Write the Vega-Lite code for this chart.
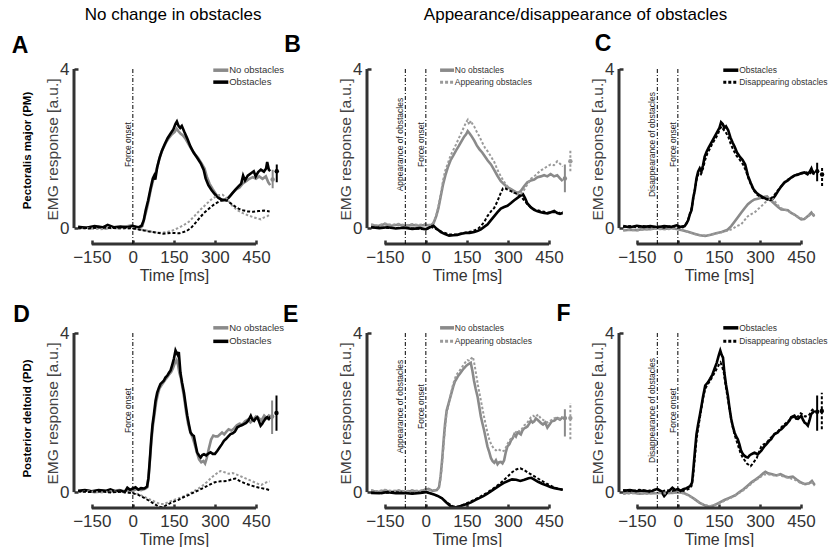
{
"$schema": "https://vega.github.io/schema/vega-lite/v6.json",
"padding": {"left": 11, "top": 6, "right": 0, "bottom": 0},
"columns": 3,
"spacing": {"row": 89, "column": 47},
"bounds": "flush",
"align": "each",
"config": {
 "font": "Liberation Sans",
 "view": {"stroke": null},
 "axisX": {"domain": false, "grid": false, "ticks": true, "tickSize": -4, "tickWidth": 2.5, "tickColor": "#333333", "labelFontSize": 17, "labelColor": "#333333", "labelPadding": 9, "labelFlush": false, "labelOverlap": false, "titleFontSize": 16, "titleFontWeight": "normal", "titleColor": "#333333", "titleX": 100, "titleY": 31, "titleBaseline": "middle", "titleAlign": "center"},
 "axisY": {"domain": false, "grid": false, "ticks": true, "tickSize": -4, "tickWidth": 2.5, "tickColor": "#333333", "labelFontSize": 17, "labelColor": "#333333", "labelPadding": 9, "labelFlush": false, "labelOverlap": false, "titleFontSize": 15.5, "titleFontWeight": "normal", "titleColor": "#444444", "titleX": -22, "titleY": 80, "titleAngle": -90, "titleAlign": "center", "titleBaseline": "middle"}
},
"datasets": {
 "evA": [{"ev": 0, "lab": "Force onset"}],
 "evB": [{"ev": -75, "lab": "Appearance of obstacles"}, {"ev": 0, "lab": "Force onset"}],
 "evC": [{"ev": -75, "lab": "Disappearance of obstacles"}, {"ev": 0, "lab": "Force onset"}],
 "A": [
{"s":"gs","t":-200,"v":-0.01},{"s":"gs","t":-175,"v":0.02},{"s":"gs","t":-150,"v":0},{"s":"gs","t":-125,"v":0.03},{"s":"gs","t":-100,"v":-0.01},{"s":"gs","t":-75,"v":0.02},{"s":"gs","t":-50,"v":0},{"s":"gs","t":-25,"v":0.04},{"s":"gs","t":-5,"v":0.07},{"s":"gs","t":10,"v":0.03},{"s":"gs","t":25,"v":0},{"s":"gs","t":35,"v":0.05},{"s":"gs","t":42,"v":0.25},{"s":"gs","t":50,"v":0.45},{"s":"gs","t":58,"v":0.7},{"s":"gs","t":66,"v":0.98},{"s":"gs","t":74,"v":1.2},{"s":"gs","t":82,"v":1.35},{"s":"gs","t":90,"v":1.55},{"s":"gs","t":100,"v":1.82},{"s":"gs","t":110,"v":2.0},{"s":"gs","t":121,"v":2.15},{"s":"gs","t":132,"v":2.27},{"s":"gs","t":143,"v":2.36},{"s":"gs","t":153,"v":2.42},{"s":"gs","t":160,"v":2.5},{"s":"gs","t":166,"v":2.44},{"s":"gs","t":174,"v":2.38},{"s":"gs","t":183,"v":2.33},{"s":"gs","t":193,"v":2.24},{"s":"gs","t":203,"v":2.12},{"s":"gs","t":214,"v":1.99},{"s":"gs","t":226,"v":1.87},{"s":"gs","t":238,"v":1.77},{"s":"gs","t":250,"v":1.64},{"s":"gs","t":262,"v":1.5},{"s":"gs","t":270,"v":1.3},{"s":"gs","t":280,"v":1.12},{"s":"gs","t":292,"v":0.98},{"s":"gs","t":305,"v":0.84},{"s":"gs","t":318,"v":0.75},{"s":"gs","t":330,"v":0.69},{"s":"gs","t":342,"v":0.72},{"s":"gs","t":354,"v":0.8},{"s":"gs","t":366,"v":0.9},{"s":"gs","t":378,"v":0.97},{"s":"gs","t":390,"v":1.02},{"s":"gs","t":402,"v":1.12},{"s":"gs","t":414,"v":1.18},{"s":"gs","t":426,"v":1.24},{"s":"gs","t":438,"v":1.28},{"s":"gs","t":450,"v":1.24},{"s":"gs","t":462,"v":1.3},{"s":"gs","t":474,"v":1.24},{"s":"gs","t":486,"v":1.3},{"s":"gs","t":495,"v":1.15},{"s":"gs","t":502,"v":1.08},
{"s":"ks","t":-200,"v":0.03},{"s":"ks","t":-170,"v":0.01},{"s":"ks","t":-140,"v":0.05},{"s":"ks","t":-110,"v":0.02},{"s":"ks","t":-92,"v":0.08},{"s":"ks","t":-70,"v":0.02},{"s":"ks","t":-45,"v":0.04},{"s":"ks","t":-20,"v":0.02},{"s":"ks","t":0,"v":0.05},{"s":"ks","t":20,"v":0.02},{"s":"ks","t":32,"v":0.06},{"s":"ks","t":40,"v":0.2},{"s":"ks","t":47,"v":0.45},{"s":"ks","t":56,"v":0.7},{"s":"ks","t":65,"v":1.0},{"s":"ks","t":73,"v":1.25},{"s":"ks","t":78,"v":1.32},{"s":"ks","t":82,"v":1.22},{"s":"ks","t":89,"v":1.53},{"s":"ks","t":97,"v":1.75},{"s":"ks","t":106,"v":1.94},{"s":"ks","t":116,"v":2.1},{"s":"ks","t":127,"v":2.26},{"s":"ks","t":138,"v":2.38},{"s":"ks","t":148,"v":2.48},{"s":"ks","t":156,"v":2.62},{"s":"ks","t":161,"v":2.68},{"s":"ks","t":167,"v":2.57},{"s":"ks","t":173,"v":2.52},{"s":"ks","t":179,"v":2.57},{"s":"ks","t":188,"v":2.42},{"s":"ks","t":199,"v":2.25},{"s":"ks","t":210,"v":2.06},{"s":"ks","t":222,"v":1.9},{"s":"ks","t":235,"v":1.77},{"s":"ks","t":248,"v":1.63},{"s":"ks","t":259,"v":1.46},{"s":"ks","t":266,"v":1.25},{"s":"ks","t":276,"v":1.08},{"s":"ks","t":288,"v":0.95},{"s":"ks","t":300,"v":0.85},{"s":"ks","t":313,"v":0.76},{"s":"ks","t":326,"v":0.71},{"s":"ks","t":338,"v":0.71},{"s":"ks","t":350,"v":0.76},{"s":"ks","t":362,"v":0.86},{"s":"ks","t":374,"v":0.96},{"s":"ks","t":386,"v":1.05},{"s":"ks","t":396,"v":1.12},{"s":"ks","t":403,"v":1.32},{"s":"ks","t":410,"v":1.2},{"s":"ks","t":420,"v":1.32},{"s":"ks","t":432,"v":1.38},{"s":"ks","t":442,"v":1.43},{"s":"ks","t":449,"v":1.3},{"s":"ks","t":458,"v":1.41},{"s":"ks","t":468,"v":1.47},{"s":"ks","t":479,"v":1.42},{"s":"ks","t":487,"v":1.5},{"s":"ks","t":491,"v":1.66},{"s":"ks","t":497,"v":1.47},{"s":"ks","t":502,"v":1.43},
{"s":"gd","t":-200,"v":-0.02},{"s":"gd","t":-160,"v":0},{"s":"gd","t":-120,"v":-0.03},{"s":"gd","t":-80,"v":0},{"s":"gd","t":-40,"v":-0.02},{"s":"gd","t":0,"v":0},{"s":"gd","t":25,"v":-0.03},{"s":"gd","t":50,"v":-0.06},{"s":"gd","t":75,"v":-0.1},{"s":"gd","t":100,"v":-0.12},{"s":"gd","t":125,"v":-0.1},{"s":"gd","t":145,"v":-0.06},{"s":"gd","t":165,"v":0},{"s":"gd","t":185,"v":0.07},{"s":"gd","t":205,"v":0.16},{"s":"gd","t":225,"v":0.3},{"s":"gd","t":245,"v":0.45},{"s":"gd","t":265,"v":0.58},{"s":"gd","t":285,"v":0.71},{"s":"gd","t":300,"v":0.78},{"s":"gd","t":315,"v":0.83},{"s":"gd","t":328,"v":0.84},{"s":"gd","t":340,"v":0.77},{"s":"gd","t":352,"v":0.66},{"s":"gd","t":365,"v":0.55},{"s":"gd","t":380,"v":0.46},{"s":"gd","t":398,"v":0.39},{"s":"gd","t":418,"v":0.33},{"s":"gd","t":438,"v":0.28},{"s":"gd","t":455,"v":0.24},{"s":"gd","t":468,"v":0.22},{"s":"gd","t":480,"v":0.27},{"s":"gd","t":492,"v":0.3},{"s":"gd","t":500,"v":0.34},
{"s":"kd","t":-200,"v":0.01},{"s":"kd","t":-160,"v":-0.01},{"s":"kd","t":-120,"v":0.02},{"s":"kd","t":-80,"v":0},{"s":"kd","t":-40,"v":0.01},{"s":"kd","t":0,"v":-0.01},{"s":"kd","t":25,"v":-0.04},{"s":"kd","t":55,"v":-0.08},{"s":"kd","t":85,"v":-0.11},{"s":"kd","t":110,"v":-0.14},{"s":"kd","t":140,"v":-0.12},{"s":"kd","t":170,"v":-0.13},{"s":"kd","t":195,"v":-0.08},{"s":"kd","t":212,"v":0},{"s":"kd","t":225,"v":0.1},{"s":"kd","t":242,"v":0.24},{"s":"kd","t":260,"v":0.38},{"s":"kd","t":280,"v":0.5},{"s":"kd","t":298,"v":0.6},{"s":"kd","t":316,"v":0.67},{"s":"kd","t":333,"v":0.71},{"s":"kd","t":346,"v":0.68},{"s":"kd","t":358,"v":0.62},{"s":"kd","t":372,"v":0.55},{"s":"kd","t":386,"v":0.49},{"s":"kd","t":402,"v":0.45},{"s":"kd","t":420,"v":0.42},{"s":"kd","t":440,"v":0.41},{"s":"kd","t":460,"v":0.43},{"s":"kd","t":480,"v":0.44},{"s":"kd","t":500,"v":0.42},
{"s":"gs","t":511,"v":1.22,"lo":1.0,"hi":1.47},{"s":"ks","t":526,"v":1.43,"lo":1.15,"hi":1.6}
 ],
 "B": [
{"s":"gs","t":-200,"v":0.08},{"s":"gs","t":-175,"v":0.05},{"s":"gs","t":-150,"v":0.1},{"s":"gs","t":-125,"v":0.06},{"s":"gs","t":-100,"v":0.09},{"s":"gs","t":-75,"v":0.05},{"s":"gs","t":-50,"v":0.08},{"s":"gs","t":-25,"v":0.06},{"s":"gs","t":0,"v":0.08},{"s":"gs","t":15,"v":0.06},{"s":"gs","t":28,"v":0.12},{"s":"gs","t":38,"v":0.3},{"s":"gs","t":46,"v":0.5},{"s":"gs","t":55,"v":0.82},{"s":"gs","t":63,"v":1.1},{"s":"gs","t":71,"v":1.32},{"s":"gs","t":80,"v":1.52},{"s":"gs","t":90,"v":1.7},{"s":"gs","t":100,"v":1.82},{"s":"gs","t":110,"v":1.95},{"s":"gs","t":120,"v":2.06},{"s":"gs","t":130,"v":2.18},{"s":"gs","t":140,"v":2.3},{"s":"gs","t":147,"v":2.36},{"s":"gs","t":153,"v":2.44},{"s":"gs","t":160,"v":2.38},{"s":"gs","t":168,"v":2.3},{"s":"gs","t":177,"v":2.2},{"s":"gs","t":186,"v":2.08},{"s":"gs","t":196,"v":1.98},{"s":"gs","t":206,"v":1.9},{"s":"gs","t":216,"v":1.8},{"s":"gs","t":226,"v":1.7},{"s":"gs","t":238,"v":1.6},{"s":"gs","t":250,"v":1.46},{"s":"gs","t":262,"v":1.31},{"s":"gs","t":274,"v":1.18},{"s":"gs","t":286,"v":1.1},{"s":"gs","t":298,"v":1.03},{"s":"gs","t":311,"v":0.98},{"s":"gs","t":323,"v":0.93},{"s":"gs","t":335,"v":0.88},{"s":"gs","t":347,"v":0.93},{"s":"gs","t":359,"v":1.05},{"s":"gs","t":371,"v":1.15},{"s":"gs","t":384,"v":1.2},{"s":"gs","t":396,"v":1.22},{"s":"gs","t":408,"v":1.28},{"s":"gs","t":420,"v":1.3},{"s":"gs","t":432,"v":1.33},{"s":"gs","t":444,"v":1.3},{"s":"gs","t":456,"v":1.36},{"s":"gs","t":468,"v":1.3},{"s":"gs","t":480,"v":1.33},{"s":"gs","t":490,"v":1.25},{"s":"gs","t":500,"v":1.18},
{"s":"ks","t":-200,"v":0.02},{"s":"ks","t":-170,"v":0},{"s":"ks","t":-140,"v":0.02},{"s":"ks","t":-110,"v":-0.01},{"s":"ks","t":-80,"v":0.01},{"s":"ks","t":-50,"v":-0.02},{"s":"ks","t":-20,"v":0},{"s":"ks","t":0,"v":-0.03},{"s":"ks","t":15,"v":0.02},{"s":"ks","t":28,"v":0.06},{"s":"ks","t":40,"v":-0.02},{"s":"ks","t":55,"v":-0.1},{"s":"ks","t":70,"v":-0.15},{"s":"ks","t":85,"v":-0.19},{"s":"ks","t":100,"v":-0.18},{"s":"ks","t":115,"v":-0.17},{"s":"ks","t":130,"v":-0.14},{"s":"ks","t":145,"v":-0.12},{"s":"ks","t":160,"v":-0.12},{"s":"ks","t":177,"v":-0.1},{"s":"ks","t":190,"v":-0.07},{"s":"ks","t":201,"v":-0.03},{"s":"ks","t":213,"v":0.03},{"s":"ks","t":225,"v":0.09},{"s":"ks","t":238,"v":0.2},{"s":"ks","t":250,"v":0.3},{"s":"ks","t":262,"v":0.4},{"s":"ks","t":274,"v":0.49},{"s":"ks","t":286,"v":0.53},{"s":"ks","t":298,"v":0.56},{"s":"ks","t":311,"v":0.63},{"s":"ks","t":323,"v":0.7},{"s":"ks","t":335,"v":0.76},{"s":"ks","t":347,"v":0.82},{"s":"ks","t":355,"v":0.85},{"s":"ks","t":362,"v":0.76},{"s":"ks","t":371,"v":0.62},{"s":"ks","t":384,"v":0.52},{"s":"ks","t":396,"v":0.46},{"s":"ks","t":408,"v":0.42},{"s":"ks","t":420,"v":0.4},{"s":"ks","t":432,"v":0.38},{"s":"ks","t":445,"v":0.37},{"s":"ks","t":457,"v":0.4},{"s":"ks","t":469,"v":0.43},{"s":"ks","t":480,"v":0.38},{"s":"ks","t":490,"v":0.36},{"s":"ks","t":500,"v":0.38},
{"s":"gd","t":-200,"v":0.1},{"s":"gd","t":-175,"v":0.06},{"s":"gd","t":-150,"v":0.12},{"s":"gd","t":-125,"v":0.08},{"s":"gd","t":-100,"v":0.11},{"s":"gd","t":-75,"v":0.07},{"s":"gd","t":-50,"v":0.1},{"s":"gd","t":-25,"v":0.08},{"s":"gd","t":0,"v":0.1},{"s":"gd","t":15,"v":0.08},{"s":"gd","t":28,"v":0.14},{"s":"gd","t":38,"v":0.32},{"s":"gd","t":46,"v":0.55},{"s":"gd","t":55,"v":0.88},{"s":"gd","t":63,"v":1.2},{"s":"gd","t":71,"v":1.45},{"s":"gd","t":80,"v":1.62},{"s":"gd","t":90,"v":1.82},{"s":"gd","t":100,"v":1.96},{"s":"gd","t":110,"v":2.1},{"s":"gd","t":120,"v":2.25},{"s":"gd","t":130,"v":2.4},{"s":"gd","t":140,"v":2.55},{"s":"gd","t":147,"v":2.66},{"s":"gd","t":153,"v":2.72},{"s":"gd","t":158,"v":2.6},{"s":"gd","t":164,"v":2.7},{"s":"gd","t":170,"v":2.62},{"s":"gd","t":177,"v":2.55},{"s":"gd","t":186,"v":2.42},{"s":"gd","t":196,"v":2.3},{"s":"gd","t":206,"v":2.15},{"s":"gd","t":216,"v":2.02},{"s":"gd","t":226,"v":1.93},{"s":"gd","t":238,"v":1.8},{"s":"gd","t":250,"v":1.66},{"s":"gd","t":262,"v":1.46},{"s":"gd","t":274,"v":1.3},{"s":"gd","t":286,"v":1.16},{"s":"gd","t":298,"v":1.05},{"s":"gd","t":311,"v":0.96},{"s":"gd","t":323,"v":0.88},{"s":"gd","t":335,"v":0.84},{"s":"gd","t":347,"v":0.86},{"s":"gd","t":359,"v":0.96},{"s":"gd","t":371,"v":1.1},{"s":"gd","t":384,"v":1.24},{"s":"gd","t":396,"v":1.3},{"s":"gd","t":408,"v":1.38},{"s":"gd","t":420,"v":1.45},{"s":"gd","t":432,"v":1.5},{"s":"gd","t":444,"v":1.55},{"s":"gd","t":456,"v":1.6},{"s":"gd","t":468,"v":1.58},{"s":"gd","t":480,"v":1.68},{"s":"gd","t":490,"v":1.62},{"s":"gd","t":500,"v":1.55},
{"s":"kd","t":-200,"v":0.02},{"s":"kd","t":-160,"v":0.01},{"s":"kd","t":-120,"v":0},{"s":"kd","t":-80,"v":0.01},{"s":"kd","t":-40,"v":-0.01},{"s":"kd","t":0,"v":-0.03},{"s":"kd","t":20,"v":0.03},{"s":"kd","t":40,"v":-0.03},{"s":"kd","t":60,"v":-0.1},{"s":"kd","t":85,"v":-0.16},{"s":"kd","t":110,"v":-0.16},{"s":"kd","t":140,"v":-0.12},{"s":"kd","t":170,"v":-0.08},{"s":"kd","t":190,"v":-0.02},{"s":"kd","t":201,"v":0.05},{"s":"kd","t":213,"v":0.15},{"s":"kd","t":225,"v":0.3},{"s":"kd","t":238,"v":0.42},{"s":"kd","t":250,"v":0.51},{"s":"kd","t":262,"v":0.68},{"s":"kd","t":274,"v":0.89},{"s":"kd","t":282,"v":1.0},{"s":"kd","t":290,"v":1.0},{"s":"kd","t":298,"v":0.97},{"s":"kd","t":311,"v":0.93},{"s":"kd","t":323,"v":0.89},{"s":"kd","t":335,"v":0.85},{"s":"kd","t":347,"v":0.8},{"s":"kd","t":359,"v":0.7},{"s":"kd","t":371,"v":0.6},{"s":"kd","t":384,"v":0.52},{"s":"kd","t":396,"v":0.47},{"s":"kd","t":420,"v":0.43},{"s":"kd","t":445,"v":0.39},{"s":"kd","t":469,"v":0.4},{"s":"kd","t":485,"v":0.38},{"s":"kd","t":500,"v":0.4},
{"s":"gs","t":508,"v":1.25,"lo":0.9,"hi":1.6},{"s":"gd","t":528,"v":1.68,"lo":1.43,"hi":1.99}
 ],
 "C": [
{"s":"gs","t":-200,"v":-0.06},{"s":"gs","t":-175,"v":-0.04},{"s":"gs","t":-150,"v":-0.05},{"s":"gs","t":-125,"v":-0.02},{"s":"gs","t":-100,"v":-0.03},{"s":"gs","t":-75,"v":0},{"s":"gs","t":-50,"v":-0.02},{"s":"gs","t":-25,"v":0},{"s":"gs","t":0,"v":-0.03},{"s":"gs","t":20,"v":-0.06},{"s":"gs","t":40,"v":-0.1},{"s":"gs","t":60,"v":-0.14},{"s":"gs","t":80,"v":-0.18},{"s":"gs","t":100,"v":-0.2},{"s":"gs","t":120,"v":-0.17},{"s":"gs","t":140,"v":-0.13},{"s":"gs","t":160,"v":-0.1},{"s":"gs","t":180,"v":-0.05},{"s":"gs","t":195,"v":0.05},{"s":"gs","t":207,"v":0.16},{"s":"gs","t":220,"v":0.28},{"s":"gs","t":232,"v":0.39},{"s":"gs","t":244,"v":0.5},{"s":"gs","t":256,"v":0.6},{"s":"gs","t":268,"v":0.67},{"s":"gs","t":280,"v":0.72},{"s":"gs","t":292,"v":0.74},{"s":"gs","t":305,"v":0.76},{"s":"gs","t":317,"v":0.79},{"s":"gs","t":326,"v":0.8},{"s":"gs","t":335,"v":0.73},{"s":"gs","t":345,"v":0.66},{"s":"gs","t":355,"v":0.6},{"s":"gs","t":366,"v":0.53},{"s":"gs","t":378,"v":0.47},{"s":"gs","t":390,"v":0.46},{"s":"gs","t":402,"v":0.45},{"s":"gs","t":414,"v":0.38},{"s":"gs","t":426,"v":0.34},{"s":"gs","t":438,"v":0.28},{"s":"gs","t":451,"v":0.22},{"s":"gs","t":462,"v":0.23},{"s":"gs","t":470,"v":0.27},{"s":"gs","t":480,"v":0.33},{"s":"gs","t":488,"v":0.39},{"s":"gs","t":495,"v":0.32},{"s":"gs","t":500,"v":0.3},
{"s":"ks","t":-200,"v":0.05},{"s":"ks","t":-175,"v":0.02},{"s":"ks","t":-150,"v":0.06},{"s":"ks","t":-125,"v":0.03},{"s":"ks","t":-100,"v":0.05},{"s":"ks","t":-75,"v":0.02},{"s":"ks","t":-50,"v":0.05},{"s":"ks","t":-25,"v":0.03},{"s":"ks","t":-5,"v":0.07},{"s":"ks","t":10,"v":0.03},{"s":"ks","t":25,"v":0.05},{"s":"ks","t":32,"v":0.12},{"s":"ks","t":38,"v":0.2},{"s":"ks","t":44,"v":0.35},{"s":"ks","t":50,"v":0.45},{"s":"ks","t":56,"v":0.75},{"s":"ks","t":62,"v":0.95},{"s":"ks","t":68,"v":1.25},{"s":"ks","t":74,"v":1.42},{"s":"ks","t":80,"v":1.5},{"s":"ks","t":86,"v":1.42},{"s":"ks","t":92,"v":1.58},{"s":"ks","t":98,"v":1.8},{"s":"ks","t":105,"v":1.92},{"s":"ks","t":112,"v":2.02},{"s":"ks","t":120,"v":2.12},{"s":"ks","t":128,"v":2.22},{"s":"ks","t":136,"v":2.32},{"s":"ks","t":144,"v":2.42},{"s":"ks","t":152,"v":2.52},{"s":"ks","t":158,"v":2.66},{"s":"ks","t":164,"v":2.62},{"s":"ks","t":170,"v":2.52},{"s":"ks","t":176,"v":2.56},{"s":"ks","t":184,"v":2.46},{"s":"ks","t":192,"v":2.28},{"s":"ks","t":200,"v":2.15},{"s":"ks","t":208,"v":2.04},{"s":"ks","t":216,"v":1.9},{"s":"ks","t":226,"v":1.8},{"s":"ks","t":236,"v":1.72},{"s":"ks","t":246,"v":1.6},{"s":"ks","t":256,"v":1.32},{"s":"ks","t":266,"v":1.14},{"s":"ks","t":276,"v":0.98},{"s":"ks","t":288,"v":0.88},{"s":"ks","t":300,"v":0.82},{"s":"ks","t":312,"v":0.77},{"s":"ks","t":324,"v":0.73},{"s":"ks","t":336,"v":0.71},{"s":"ks","t":346,"v":0.73},{"s":"ks","t":356,"v":0.82},{"s":"ks","t":366,"v":0.93},{"s":"ks","t":378,"v":1.05},{"s":"ks","t":390,"v":1.15},{"s":"ks","t":402,"v":1.2},{"s":"ks","t":414,"v":1.27},{"s":"ks","t":426,"v":1.32},{"s":"ks","t":438,"v":1.34},{"s":"ks","t":450,"v":1.38},{"s":"ks","t":462,"v":1.4},{"s":"ks","t":474,"v":1.35},{"s":"ks","t":482,"v":1.42},{"s":"ks","t":488,"v":1.5},{"s":"ks","t":494,"v":1.38},{"s":"ks","t":500,"v":1.36},
{"s":"gd","t":-200,"v":-0.04},{"s":"gd","t":-150,"v":-0.06},{"s":"gd","t":-100,"v":-0.02},{"s":"gd","t":-50,"v":-0.03},{"s":"gd","t":0,"v":-0.02},{"s":"gd","t":30,"v":-0.08},{"s":"gd","t":60,"v":-0.15},{"s":"gd","t":90,"v":-0.19},{"s":"gd","t":120,"v":-0.17},{"s":"gd","t":150,"v":-0.12},{"s":"gd","t":180,"v":-0.07},{"s":"gd","t":200,"v":-0.02},{"s":"gd","t":215,"v":0.05},{"s":"gd","t":231,"v":0.09},{"s":"gd","t":244,"v":0.2},{"s":"gd","t":256,"v":0.3},{"s":"gd","t":268,"v":0.35},{"s":"gd","t":280,"v":0.39},{"s":"gd","t":292,"v":0.47},{"s":"gd","t":305,"v":0.55},{"s":"gd","t":317,"v":0.63},{"s":"gd","t":329,"v":0.7},{"s":"gd","t":341,"v":0.76},{"s":"gd","t":350,"v":0.72},{"s":"gd","t":360,"v":0.62},{"s":"gd","t":372,"v":0.52},{"s":"gd","t":384,"v":0.48},{"s":"gd","t":400,"v":0.44},{"s":"gd","t":420,"v":0.36},{"s":"gd","t":440,"v":0.28},{"s":"gd","t":460,"v":0.22},{"s":"gd","t":480,"v":0.32},{"s":"gd","t":495,"v":0.35},{"s":"gd","t":500,"v":0.32},
{"s":"kd","t":-200,"v":0.03},{"s":"kd","t":-175,"v":0.05},{"s":"kd","t":-150,"v":0.02},{"s":"kd","t":-125,"v":0.05},{"s":"kd","t":-100,"v":0.02},{"s":"kd","t":-75,"v":0.04},{"s":"kd","t":-50,"v":0.01},{"s":"kd","t":-25,"v":0.05},{"s":"kd","t":0,"v":0.02},{"s":"kd","t":15,"v":0},{"s":"kd","t":28,"v":0.08},{"s":"kd","t":36,"v":0.18},{"s":"kd","t":44,"v":0.35},{"s":"kd","t":52,"v":0.55},{"s":"kd","t":60,"v":0.9},{"s":"kd","t":68,"v":1.2},{"s":"kd","t":76,"v":1.38},{"s":"kd","t":84,"v":1.35},{"s":"kd","t":92,"v":1.5},{"s":"kd","t":100,"v":1.72},{"s":"kd","t":108,"v":1.88},{"s":"kd","t":116,"v":1.98},{"s":"kd","t":126,"v":2.12},{"s":"kd","t":136,"v":2.24},{"s":"kd","t":146,"v":2.35},{"s":"kd","t":154,"v":2.5},{"s":"kd","t":160,"v":2.55},{"s":"kd","t":166,"v":2.48},{"s":"kd","t":174,"v":2.42},{"s":"kd","t":184,"v":2.3},{"s":"kd","t":194,"v":2.1},{"s":"kd","t":204,"v":1.95},{"s":"kd","t":214,"v":1.82},{"s":"kd","t":226,"v":1.72},{"s":"kd","t":238,"v":1.6},{"s":"kd","t":248,"v":1.45},{"s":"kd","t":258,"v":1.25},{"s":"kd","t":268,"v":1.08},{"s":"kd","t":278,"v":0.94},{"s":"kd","t":290,"v":0.84},{"s":"kd","t":302,"v":0.78},{"s":"kd","t":314,"v":0.74},{"s":"kd","t":326,"v":0.72},{"s":"kd","t":338,"v":0.74},{"s":"kd","t":350,"v":0.8},{"s":"kd","t":362,"v":0.92},{"s":"kd","t":374,"v":1.02},{"s":"kd","t":386,"v":1.12},{"s":"kd","t":398,"v":1.2},{"s":"kd","t":410,"v":1.25},{"s":"kd","t":422,"v":1.3},{"s":"kd","t":434,"v":1.35},{"s":"kd","t":446,"v":1.36},{"s":"kd","t":458,"v":1.38},{"s":"kd","t":470,"v":1.4},{"s":"kd","t":482,"v":1.36},{"s":"kd","t":492,"v":1.45},{"s":"kd","t":500,"v":1.38},
{"s":"ks","t":509,"v":1.43,"lo":1.18,"hi":1.64},{"s":"kd","t":527,"v":1.35,"lo":1.06,"hi":1.56}
 ],
 "D": [
{"s":"gs","t":-200,"v":0.01},{"s":"gs","t":-170,"v":0.04},{"s":"gs","t":-140,"v":0},{"s":"gs","t":-110,"v":0.03},{"s":"gs","t":-80,"v":0.01},{"s":"gs","t":-50,"v":0.05},{"s":"gs","t":-30,"v":0.02},{"s":"gs","t":-15,"v":0.05},{"s":"gs","t":0,"v":0.03},{"s":"gs","t":15,"v":0.08},{"s":"gs","t":30,"v":0.05},{"s":"gs","t":45,"v":0.08},{"s":"gs","t":53,"v":0.12},{"s":"gs","t":58,"v":0.4},{"s":"gs","t":63,"v":0.85},{"s":"gs","t":68,"v":1.3},{"s":"gs","t":73,"v":1.65},{"s":"gs","t":79,"v":1.95},{"s":"gs","t":85,"v":2.25},{"s":"gs","t":91,"v":2.45},{"s":"gs","t":97,"v":2.6},{"s":"gs","t":104,"v":2.68},{"s":"gs","t":111,"v":2.75},{"s":"gs","t":118,"v":2.82},{"s":"gs","t":125,"v":2.88},{"s":"gs","t":132,"v":2.95},{"s":"gs","t":140,"v":3.02},{"s":"gs","t":147,"v":3.12},{"s":"gs","t":154,"v":3.25},{"s":"gs","t":160,"v":3.32},{"s":"gs","t":165,"v":3.2},{"s":"gs","t":170,"v":3.0},{"s":"gs","t":176,"v":2.85},{"s":"gs","t":182,"v":2.6},{"s":"gs","t":188,"v":2.35},{"s":"gs","t":195,"v":2.0},{"s":"gs","t":202,"v":1.72},{"s":"gs","t":210,"v":1.5},{"s":"gs","t":218,"v":1.38},{"s":"gs","t":226,"v":1.2},{"s":"gs","t":234,"v":1.0},{"s":"gs","t":242,"v":0.82},{"s":"gs","t":250,"v":0.75},{"s":"gs","t":258,"v":0.78},{"s":"gs","t":264,"v":0.72},{"s":"gs","t":270,"v":0.85},{"s":"gs","t":278,"v":1.1},{"s":"gs","t":286,"v":1.32},{"s":"gs","t":294,"v":1.42},{"s":"gs","t":302,"v":1.4},{"s":"gs","t":310,"v":1.4},{"s":"gs","t":318,"v":1.45},{"s":"gs","t":326,"v":1.5},{"s":"gs","t":334,"v":1.45},{"s":"gs","t":342,"v":1.52},{"s":"gs","t":350,"v":1.58},{"s":"gs","t":360,"v":1.55},{"s":"gs","t":370,"v":1.6},{"s":"gs","t":380,"v":1.68},{"s":"gs","t":390,"v":1.72},{"s":"gs","t":400,"v":1.7},{"s":"gs","t":410,"v":1.78},{"s":"gs","t":420,"v":1.82},{"s":"gs","t":430,"v":1.75},{"s":"gs","t":440,"v":1.82},{"s":"gs","t":450,"v":1.9},{"s":"gs","t":460,"v":1.86},{"s":"gs","t":470,"v":1.8},{"s":"gs","t":480,"v":1.92},{"s":"gs","t":490,"v":1.85},{"s":"gs","t":500,"v":1.95},
{"s":"ks","t":-200,"v":0.03},{"s":"ks","t":-175,"v":0.05},{"s":"ks","t":-150,"v":0.02},{"s":"ks","t":-125,"v":0.05},{"s":"ks","t":-100,"v":0.03},{"s":"ks","t":-82,"v":0.07},{"s":"ks","t":-65,"v":0.02},{"s":"ks","t":-45,"v":0.04},{"s":"ks","t":-30,"v":0},{"s":"ks","t":-20,"v":0.11},{"s":"ks","t":-10,"v":0.06},{"s":"ks","t":0,"v":0.09},{"s":"ks","t":10,"v":0.12},{"s":"ks","t":20,"v":0.06},{"s":"ks","t":30,"v":0.1},{"s":"ks","t":42,"v":0.09},{"s":"ks","t":52,"v":0.14},{"s":"ks","t":57,"v":0.35},{"s":"ks","t":62,"v":0.8},{"s":"ks","t":67,"v":1.3},{"s":"ks","t":72,"v":1.7},{"s":"ks","t":77,"v":1.95},{"s":"ks","t":83,"v":2.3},{"s":"ks","t":89,"v":2.5},{"s":"ks","t":95,"v":2.62},{"s":"ks","t":101,"v":2.72},{"s":"ks","t":107,"v":2.76},{"s":"ks","t":113,"v":2.8},{"s":"ks","t":119,"v":2.88},{"s":"ks","t":126,"v":2.93},{"s":"ks","t":132,"v":3.0},{"s":"ks","t":138,"v":3.06},{"s":"ks","t":144,"v":3.2},{"s":"ks","t":150,"v":3.35},{"s":"ks","t":156,"v":3.56},{"s":"ks","t":160,"v":3.5},{"s":"ks","t":164,"v":3.45},{"s":"ks","t":168,"v":3.52},{"s":"ks","t":174,"v":3.0},{"s":"ks","t":180,"v":2.75},{"s":"ks","t":187,"v":2.5},{"s":"ks","t":193,"v":2.2},{"s":"ks","t":199,"v":1.92},{"s":"ks","t":205,"v":1.7},{"s":"ks","t":211,"v":1.5},{"s":"ks","t":217,"v":1.44},{"s":"ks","t":223,"v":1.41},{"s":"ks","t":229,"v":1.2},{"s":"ks","t":235,"v":1.0},{"s":"ks","t":242,"v":0.92},{"s":"ks","t":248,"v":0.87},{"s":"ks","t":254,"v":0.93},{"s":"ks","t":260,"v":0.95},{"s":"ks","t":268,"v":0.92},{"s":"ks","t":276,"v":0.97},{"s":"ks","t":284,"v":1.0},{"s":"ks","t":292,"v":0.96},{"s":"ks","t":300,"v":0.96},{"s":"ks","t":309,"v":1.04},{"s":"ks","t":317,"v":1.12},{"s":"ks","t":325,"v":1.2},{"s":"ks","t":333,"v":1.29},{"s":"ks","t":341,"v":1.34},{"s":"ks","t":349,"v":1.4},{"s":"ks","t":357,"v":1.46},{"s":"ks","t":365,"v":1.48},{"s":"ks","t":373,"v":1.52},{"s":"ks","t":382,"v":1.63},{"s":"ks","t":390,"v":1.66},{"s":"ks","t":398,"v":1.68},{"s":"ks","t":406,"v":1.71},{"s":"ks","t":414,"v":1.74},{"s":"ks","t":422,"v":1.8},{"s":"ks","t":431,"v":1.92},{"s":"ks","t":437,"v":1.82},{"s":"ks","t":443,"v":1.79},{"s":"ks","t":449,"v":1.85},{"s":"ks","t":455,"v":1.88},{"s":"ks","t":461,"v":1.78},{"s":"ks","t":467,"v":1.67},{"s":"ks","t":473,"v":1.72},{"s":"ks","t":479,"v":1.79},{"s":"ks","t":485,"v":1.85},{"s":"ks","t":491,"v":1.88},{"s":"ks","t":497,"v":1.84},{"s":"ks","t":503,"v":1.9},
{"s":"gd","t":-200,"v":0},{"s":"gd","t":-160,"v":0.02},{"s":"gd","t":-120,"v":-0.01},{"s":"gd","t":-80,"v":0.02},{"s":"gd","t":-40,"v":0},{"s":"gd","t":0,"v":-0.02},{"s":"gd","t":20,"v":-0.05},{"s":"gd","t":40,"v":-0.11},{"s":"gd","t":60,"v":-0.18},{"s":"gd","t":80,"v":-0.24},{"s":"gd","t":100,"v":-0.3},{"s":"gd","t":115,"v":-0.3},{"s":"gd","t":130,"v":-0.25},{"s":"gd","t":150,"v":-0.2},{"s":"gd","t":170,"v":-0.15},{"s":"gd","t":190,"v":-0.09},{"s":"gd","t":210,"v":-0.03},{"s":"gd","t":230,"v":0.05},{"s":"gd","t":250,"v":0.13},{"s":"gd","t":270,"v":0.25},{"s":"gd","t":290,"v":0.38},{"s":"gd","t":305,"v":0.46},{"s":"gd","t":320,"v":0.53},{"s":"gd","t":335,"v":0.5},{"s":"gd","t":350,"v":0.46},{"s":"gd","t":365,"v":0.48},{"s":"gd","t":380,"v":0.44},{"s":"gd","t":400,"v":0.38},{"s":"gd","t":420,"v":0.32},{"s":"gd","t":440,"v":0.26},{"s":"gd","t":460,"v":0.2},{"s":"gd","t":470,"v":0.18},{"s":"gd","t":480,"v":0.22},{"s":"gd","t":490,"v":0.25},{"s":"gd","t":500,"v":0.27},
{"s":"kd","t":-200,"v":0.02},{"s":"kd","t":-160,"v":0},{"s":"kd","t":-120,"v":0.02},{"s":"kd","t":-80,"v":-0.01},{"s":"kd","t":-40,"v":0.01},{"s":"kd","t":0,"v":-0.03},{"s":"kd","t":20,"v":-0.07},{"s":"kd","t":40,"v":-0.14},{"s":"kd","t":60,"v":-0.22},{"s":"kd","t":80,"v":-0.3},{"s":"kd","t":95,"v":-0.37},{"s":"kd","t":110,"v":-0.38},{"s":"kd","t":125,"v":-0.32},{"s":"kd","t":145,"v":-0.25},{"s":"kd","t":165,"v":-0.2},{"s":"kd","t":185,"v":-0.13},{"s":"kd","t":205,"v":-0.07},{"s":"kd","t":225,"v":0},{"s":"kd","t":245,"v":0.06},{"s":"kd","t":265,"v":0.13},{"s":"kd","t":285,"v":0.2},{"s":"kd","t":300,"v":0.25},{"s":"kd","t":320,"v":0.27},{"s":"kd","t":345,"v":0.28},{"s":"kd","t":365,"v":0.33},{"s":"kd","t":375,"v":0.34},{"s":"kd","t":390,"v":0.28},{"s":"kd","t":410,"v":0.22},{"s":"kd","t":430,"v":0.17},{"s":"kd","t":450,"v":0.13},{"s":"kd","t":470,"v":0.1},{"s":"kd","t":490,"v":0.07},{"s":"kd","t":500,"v":0.05},
{"s":"gs","t":509,"v":1.9,"lo":1.46,"hi":2.3},{"s":"ks","t":525,"v":1.99,"lo":1.54,"hi":2.43}
 ],
 "E": [
{"s":"gs","t":-200,"v":0.03},{"s":"gs","t":-175,"v":0},{"s":"gs","t":-150,"v":0.04},{"s":"gs","t":-125,"v":0.01},{"s":"gs","t":-100,"v":0.03},{"s":"gs","t":-75,"v":0},{"s":"gs","t":-50,"v":0.03},{"s":"gs","t":-25,"v":0.01},{"s":"gs","t":-5,"v":0.05},{"s":"gs","t":10,"v":0.08},{"s":"gs","t":25,"v":0.03},{"s":"gs","t":40,"v":0.05},{"s":"gs","t":48,"v":0.12},{"s":"gs","t":54,"v":0.4},{"s":"gs","t":60,"v":0.85},{"s":"gs","t":65,"v":1.3},{"s":"gs","t":70,"v":1.7},{"s":"gs","t":76,"v":2.05},{"s":"gs","t":82,"v":2.2},{"s":"gs","t":88,"v":2.35},{"s":"gs","t":94,"v":2.5},{"s":"gs","t":100,"v":2.65},{"s":"gs","t":106,"v":2.78},{"s":"gs","t":112,"v":2.85},{"s":"gs","t":118,"v":2.92},{"s":"gs","t":125,"v":2.98},{"s":"gs","t":132,"v":3.05},{"s":"gs","t":140,"v":3.12},{"s":"gs","t":148,"v":3.18},{"s":"gs","t":156,"v":3.22},{"s":"gs","t":164,"v":3.25},{"s":"gs","t":170,"v":3.05},{"s":"gs","t":176,"v":2.8},{"s":"gs","t":182,"v":2.6},{"s":"gs","t":189,"v":2.4},{"s":"gs","t":195,"v":2.15},{"s":"gs","t":201,"v":1.9},{"s":"gs","t":207,"v":1.72},{"s":"gs","t":213,"v":1.55},{"s":"gs","t":219,"v":1.35},{"s":"gs","t":225,"v":1.15},{"s":"gs","t":232,"v":1.0},{"s":"gs","t":238,"v":0.85},{"s":"gs","t":244,"v":0.78},{"s":"gs","t":250,"v":0.74},{"s":"gs","t":256,"v":0.8},{"s":"gs","t":262,"v":0.7},{"s":"gs","t":268,"v":0.75},{"s":"gs","t":274,"v":0.76},{"s":"gs","t":280,"v":0.72},{"s":"gs","t":286,"v":0.8},{"s":"gs","t":292,"v":1.0},{"s":"gs","t":298,"v":1.15},{"s":"gs","t":305,"v":1.2},{"s":"gs","t":311,"v":1.3},{"s":"gs","t":317,"v":1.35},{"s":"gs","t":323,"v":1.45},{"s":"gs","t":329,"v":1.4},{"s":"gs","t":335,"v":1.5},{"s":"gs","t":341,"v":1.48},{"s":"gs","t":347,"v":1.45},{"s":"gs","t":353,"v":1.55},{"s":"gs","t":359,"v":1.6},{"s":"gs","t":365,"v":1.62},{"s":"gs","t":371,"v":1.65},{"s":"gs","t":378,"v":1.72},{"s":"gs","t":384,"v":1.8},{"s":"gs","t":390,"v":1.75},{"s":"gs","t":396,"v":1.78},{"s":"gs","t":402,"v":1.85},{"s":"gs","t":408,"v":1.82},{"s":"gs","t":414,"v":1.78},{"s":"gs","t":420,"v":1.74},{"s":"gs","t":428,"v":1.7},{"s":"gs","t":436,"v":1.75},{"s":"gs","t":444,"v":1.62},{"s":"gs","t":452,"v":1.7},{"s":"gs","t":460,"v":1.78},{"s":"gs","t":470,"v":1.8},{"s":"gs","t":480,"v":1.86},{"s":"gs","t":490,"v":1.82},{"s":"gs","t":500,"v":1.88},
{"s":"ks","t":-200,"v":-0.02},{"s":"ks","t":-170,"v":-0.03},{"s":"ks","t":-140,"v":0},{"s":"ks","t":-110,"v":-0.03},{"s":"ks","t":-80,"v":-0.02},{"s":"ks","t":-50,"v":-0.04},{"s":"ks","t":-20,"v":-0.02},{"s":"ks","t":0,"v":0},{"s":"ks","t":15,"v":-0.03},{"s":"ks","t":30,"v":-0.06},{"s":"ks","t":45,"v":-0.1},{"s":"ks","t":60,"v":-0.16},{"s":"ks","t":75,"v":-0.26},{"s":"ks","t":90,"v":-0.35},{"s":"ks","t":105,"v":-0.39},{"s":"ks","t":120,"v":-0.37},{"s":"ks","t":135,"v":-0.33},{"s":"ks","t":150,"v":-0.3},{"s":"ks","t":165,"v":-0.26},{"s":"ks","t":180,"v":-0.2},{"s":"ks","t":195,"v":-0.15},{"s":"ks","t":210,"v":-0.1},{"s":"ks","t":225,"v":-0.04},{"s":"ks","t":240,"v":0.03},{"s":"ks","t":255,"v":0.1},{"s":"ks","t":270,"v":0.17},{"s":"ks","t":285,"v":0.23},{"s":"ks","t":300,"v":0.28},{"s":"ks","t":315,"v":0.32},{"s":"ks","t":330,"v":0.31},{"s":"ks","t":345,"v":0.28},{"s":"ks","t":360,"v":0.31},{"s":"ks","t":375,"v":0.35},{"s":"ks","t":385,"v":0.36},{"s":"ks","t":395,"v":0.32},{"s":"ks","t":410,"v":0.26},{"s":"ks","t":425,"v":0.21},{"s":"ks","t":440,"v":0.17},{"s":"ks","t":455,"v":0.13},{"s":"ks","t":470,"v":0.1},{"s":"ks","t":485,"v":0.08},{"s":"ks","t":500,"v":0.06},
{"s":"gd","t":-200,"v":0.05},{"s":"gd","t":-175,"v":0.02},{"s":"gd","t":-150,"v":0.06},{"s":"gd","t":-125,"v":0.03},{"s":"gd","t":-100,"v":0.05},{"s":"gd","t":-75,"v":0.02},{"s":"gd","t":-50,"v":0.05},{"s":"gd","t":-25,"v":0.03},{"s":"gd","t":0,"v":0.07},{"s":"gd","t":15,"v":0.04},{"s":"gd","t":30,"v":0.05},{"s":"gd","t":45,"v":0.08},{"s":"gd","t":52,"v":0.25},{"s":"gd","t":58,"v":0.6},{"s":"gd","t":64,"v":1.1},{"s":"gd","t":70,"v":1.6},{"s":"gd","t":76,"v":2.0},{"s":"gd","t":82,"v":2.15},{"s":"gd","t":88,"v":2.35},{"s":"gd","t":94,"v":2.55},{"s":"gd","t":100,"v":2.72},{"s":"gd","t":106,"v":2.85},{"s":"gd","t":112,"v":2.95},{"s":"gd","t":120,"v":3.02},{"s":"gd","t":128,"v":3.1},{"s":"gd","t":136,"v":3.18},{"s":"gd","t":144,"v":3.26},{"s":"gd","t":152,"v":3.32},{"s":"gd","t":160,"v":3.3},{"s":"gd","t":166,"v":3.36},{"s":"gd","t":172,"v":3.4},{"s":"gd","t":178,"v":3.2},{"s":"gd","t":184,"v":2.95},{"s":"gd","t":190,"v":2.7},{"s":"gd","t":197,"v":2.45},{"s":"gd","t":204,"v":2.2},{"s":"gd","t":211,"v":1.95},{"s":"gd","t":218,"v":1.72},{"s":"gd","t":225,"v":1.5},{"s":"gd","t":232,"v":1.32},{"s":"gd","t":240,"v":1.18},{"s":"gd","t":248,"v":1.1},{"s":"gd","t":256,"v":1.05},{"s":"gd","t":264,"v":1.08},{"s":"gd","t":272,"v":1.05},{"s":"gd","t":280,"v":1.02},{"s":"gd","t":288,"v":1.05},{"s":"gd","t":296,"v":1.18},{"s":"gd","t":304,"v":1.28},{"s":"gd","t":312,"v":1.35},{"s":"gd","t":320,"v":1.4},{"s":"gd","t":328,"v":1.5},{"s":"gd","t":336,"v":1.55},{"s":"gd","t":344,"v":1.52},{"s":"gd","t":352,"v":1.6},{"s":"gd","t":360,"v":1.68},{"s":"gd","t":368,"v":1.72},{"s":"gd","t":376,"v":1.8},{"s":"gd","t":384,"v":1.88},{"s":"gd","t":392,"v":1.92},{"s":"gd","t":400,"v":1.88},{"s":"gd","t":410,"v":1.95},{"s":"gd","t":420,"v":1.85},{"s":"gd","t":432,"v":1.8},{"s":"gd","t":444,"v":1.75},{"s":"gd","t":456,"v":1.8},{"s":"gd","t":468,"v":1.85},{"s":"gd","t":480,"v":1.88},{"s":"gd","t":490,"v":1.84},{"s":"gd","t":500,"v":1.9},
{"s":"kd","t":-200,"v":-0.01},{"s":"kd","t":-160,"v":-0.03},{"s":"kd","t":-120,"v":0},{"s":"kd","t":-80,"v":-0.02},{"s":"kd","t":-40,"v":-0.03},{"s":"kd","t":0,"v":0.01},{"s":"kd","t":20,"v":-0.04},{"s":"kd","t":40,"v":-0.09},{"s":"kd","t":60,"v":-0.16},{"s":"kd","t":80,"v":-0.28},{"s":"kd","t":100,"v":-0.36},{"s":"kd","t":120,"v":-0.36},{"s":"kd","t":140,"v":-0.31},{"s":"kd","t":160,"v":-0.25},{"s":"kd","t":180,"v":-0.18},{"s":"kd","t":200,"v":-0.11},{"s":"kd","t":220,"v":-0.03},{"s":"kd","t":240,"v":0.06},{"s":"kd","t":260,"v":0.16},{"s":"kd","t":280,"v":0.27},{"s":"kd","t":300,"v":0.4},{"s":"kd","t":315,"v":0.5},{"s":"kd","t":330,"v":0.57},{"s":"kd","t":345,"v":0.6},{"s":"kd","t":360,"v":0.55},{"s":"kd","t":375,"v":0.48},{"s":"kd","t":390,"v":0.42},{"s":"kd","t":405,"v":0.36},{"s":"kd","t":420,"v":0.3},{"s":"kd","t":440,"v":0.22},{"s":"kd","t":460,"v":0.15},{"s":"kd","t":480,"v":0.09},{"s":"kd","t":500,"v":0.06},
{"s":"gs","t":508,"v":1.86,"lo":1.4,"hi":2.08},{"s":"gd","t":528,"v":1.86,"lo":1.33,"hi":2.24}
 ],
 "F": [
{"s":"gs","t":-200,"v":-0.03},{"s":"gs","t":-170,"v":-0.01},{"s":"gs","t":-140,"v":-0.04},{"s":"gs","t":-110,"v":-0.02},{"s":"gs","t":-80,"v":-0.03},{"s":"gs","t":-50,"v":-0.01},{"s":"gs","t":-20,"v":-0.02},{"s":"gs","t":0,"v":0},{"s":"gs","t":20,"v":-0.02},{"s":"gs","t":40,"v":-0.08},{"s":"gs","t":60,"v":-0.17},{"s":"gs","t":80,"v":-0.27},{"s":"gs","t":100,"v":-0.34},{"s":"gs","t":115,"v":-0.37},{"s":"gs","t":130,"v":-0.34},{"s":"gs","t":150,"v":-0.27},{"s":"gs","t":170,"v":-0.2},{"s":"gs","t":190,"v":-0.14},{"s":"gs","t":210,"v":-0.08},{"s":"gs","t":225,"v":0},{"s":"gs","t":240,"v":0.07},{"s":"gs","t":255,"v":0.16},{"s":"gs","t":270,"v":0.25},{"s":"gs","t":285,"v":0.32},{"s":"gs","t":300,"v":0.4},{"s":"gs","t":312,"v":0.47},{"s":"gs","t":320,"v":0.51},{"s":"gs","t":330,"v":0.47},{"s":"gs","t":345,"v":0.45},{"s":"gs","t":360,"v":0.42},{"s":"gs","t":375,"v":0.45},{"s":"gs","t":390,"v":0.4},{"s":"gs","t":405,"v":0.37},{"s":"gs","t":420,"v":0.39},{"s":"gs","t":435,"v":0.31},{"s":"gs","t":450,"v":0.24},{"s":"gs","t":465,"v":0.2},{"s":"gs","t":480,"v":0.22},{"s":"gs","t":490,"v":0.28},{"s":"gs","t":500,"v":0.18},
{"s":"ks","t":-200,"v":0.03},{"s":"ks","t":-175,"v":0.05},{"s":"ks","t":-150,"v":0.02},{"s":"ks","t":-125,"v":0.04},{"s":"ks","t":-100,"v":0.01},{"s":"ks","t":-75,"v":0.08},{"s":"ks","t":-62,"v":0.03},{"s":"ks","t":-50,"v":-0.1},{"s":"ks","t":-40,"v":-0.02},{"s":"ks","t":-30,"v":0.04},{"s":"ks","t":-20,"v":0.11},{"s":"ks","t":-10,"v":0.05},{"s":"ks","t":0,"v":0.08},{"s":"ks","t":10,"v":0.03},{"s":"ks","t":20,"v":0.07},{"s":"ks","t":32,"v":0.1},{"s":"ks","t":45,"v":0.15},{"s":"ks","t":52,"v":0.24},{"s":"ks","t":57,"v":0.6},{"s":"ks","t":62,"v":1.0},{"s":"ks","t":68,"v":1.45},{"s":"ks","t":74,"v":1.7},{"s":"ks","t":80,"v":1.92},{"s":"ks","t":86,"v":2.15},{"s":"ks","t":92,"v":2.4},{"s":"ks","t":100,"v":2.68},{"s":"ks","t":110,"v":2.76},{"s":"ks","t":118,"v":2.85},{"s":"ks","t":126,"v":2.95},{"s":"ks","t":134,"v":3.1},{"s":"ks","t":142,"v":3.25},{"s":"ks","t":150,"v":3.45},{"s":"ks","t":155,"v":3.56},{"s":"ks","t":160,"v":3.45},{"s":"ks","t":165,"v":3.38},{"s":"ks","t":170,"v":3.0},{"s":"ks","t":176,"v":2.7},{"s":"ks","t":183,"v":2.42},{"s":"ks","t":189,"v":2.1},{"s":"ks","t":195,"v":1.84},{"s":"ks","t":201,"v":1.65},{"s":"ks","t":207,"v":1.5},{"s":"ks","t":213,"v":1.4},{"s":"ks","t":219,"v":1.33},{"s":"ks","t":225,"v":1.2},{"s":"ks","t":231,"v":1.04},{"s":"ks","t":238,"v":0.95},{"s":"ks","t":244,"v":0.91},{"s":"ks","t":250,"v":0.88},{"s":"ks","t":256,"v":0.87},{"s":"ks","t":262,"v":0.92},{"s":"ks","t":268,"v":0.95},{"s":"ks","t":274,"v":0.97},{"s":"ks","t":280,"v":0.99},{"s":"ks","t":286,"v":0.97},{"s":"ks","t":292,"v":0.95},{"s":"ks","t":299,"v":1.0},{"s":"ks","t":305,"v":1.04},{"s":"ks","t":311,"v":1.1},{"s":"ks","t":317,"v":1.16},{"s":"ks","t":323,"v":1.2},{"s":"ks","t":329,"v":1.25},{"s":"ks","t":335,"v":1.3},{"s":"ks","t":341,"v":1.33},{"s":"ks","t":347,"v":1.4},{"s":"ks","t":353,"v":1.46},{"s":"ks","t":359,"v":1.48},{"s":"ks","t":365,"v":1.5},{"s":"ks","t":371,"v":1.55},{"s":"ks","t":378,"v":1.58},{"s":"ks","t":384,"v":1.62},{"s":"ks","t":390,"v":1.67},{"s":"ks","t":396,"v":1.7},{"s":"ks","t":402,"v":1.75},{"s":"ks","t":408,"v":1.8},{"s":"ks","t":414,"v":1.88},{"s":"ks","t":420,"v":1.9},{"s":"ks","t":426,"v":1.92},{"s":"ks","t":432,"v":1.85},{"s":"ks","t":439,"v":1.84},{"s":"ks","t":445,"v":1.88},{"s":"ks","t":451,"v":1.92},{"s":"ks","t":457,"v":1.82},{"s":"ks","t":463,"v":1.75},{"s":"ks","t":469,"v":1.72},{"s":"ks","t":475,"v":1.67},{"s":"ks","t":481,"v":1.8},{"s":"ks","t":487,"v":1.96},{"s":"ks","t":493,"v":2.0},{"s":"ks","t":500,"v":2.05},
{"s":"gd","t":-200,"v":-0.05},{"s":"gd","t":-160,"v":-0.03},{"s":"gd","t":-120,"v":-0.05},{"s":"gd","t":-80,"v":-0.02},{"s":"gd","t":-40,"v":-0.04},{"s":"gd","t":0,"v":-0.01},{"s":"gd","t":25,"v":-0.04},{"s":"gd","t":50,"v":-0.13},{"s":"gd","t":75,"v":-0.25},{"s":"gd","t":100,"v":-0.33},{"s":"gd","t":120,"v":-0.35},{"s":"gd","t":145,"v":-0.3},{"s":"gd","t":170,"v":-0.22},{"s":"gd","t":195,"v":-0.14},{"s":"gd","t":220,"v":-0.04},{"s":"gd","t":240,"v":0.05},{"s":"gd","t":260,"v":0.16},{"s":"gd","t":280,"v":0.28},{"s":"gd","t":300,"v":0.37},{"s":"gd","t":315,"v":0.44},{"s":"gd","t":330,"v":0.45},{"s":"gd","t":350,"v":0.42},{"s":"gd","t":370,"v":0.43},{"s":"gd","t":390,"v":0.38},{"s":"gd","t":410,"v":0.35},{"s":"gd","t":430,"v":0.3},{"s":"gd","t":450,"v":0.22},{"s":"gd","t":470,"v":0.2},{"s":"gd","t":490,"v":0.24},{"s":"gd","t":500,"v":0.16},
{"s":"kd","t":-200,"v":0.05},{"s":"kd","t":-170,"v":0.02},{"s":"kd","t":-140,"v":0.06},{"s":"kd","t":-110,"v":0.03},{"s":"kd","t":-80,"v":0.07},{"s":"kd","t":-60,"v":0.02},{"s":"kd","t":-40,"v":0.05},{"s":"kd","t":-20,"v":0.03},{"s":"kd","t":0,"v":0.06},{"s":"kd","t":20,"v":0.03},{"s":"kd","t":40,"v":0.08},{"s":"kd","t":50,"v":0.15},{"s":"kd","t":56,"v":0.4},{"s":"kd","t":62,"v":0.85},{"s":"kd","t":68,"v":1.3},{"s":"kd","t":74,"v":1.6},{"s":"kd","t":80,"v":1.85},{"s":"kd","t":86,"v":2.1},{"s":"kd","t":92,"v":2.35},{"s":"kd","t":100,"v":2.6},{"s":"kd","t":110,"v":2.72},{"s":"kd","t":118,"v":2.8},{"s":"kd","t":126,"v":2.9},{"s":"kd","t":134,"v":3.0},{"s":"kd","t":142,"v":3.1},{"s":"kd","t":150,"v":3.2},{"s":"kd","t":156,"v":3.26},{"s":"kd","t":162,"v":3.15},{"s":"kd","t":168,"v":3.0},{"s":"kd","t":174,"v":2.7},{"s":"kd","t":180,"v":2.45},{"s":"kd","t":186,"v":2.2},{"s":"kd","t":193,"v":1.9},{"s":"kd","t":200,"v":1.65},{"s":"kd","t":207,"v":1.45},{"s":"kd","t":214,"v":1.3},{"s":"kd","t":221,"v":1.15},{"s":"kd","t":228,"v":1.0},{"s":"kd","t":236,"v":0.88},{"s":"kd","t":244,"v":0.8},{"s":"kd","t":252,"v":0.72},{"s":"kd","t":260,"v":0.68},{"s":"kd","t":266,"v":0.65},{"s":"kd","t":272,"v":0.7},{"s":"kd","t":280,"v":0.78},{"s":"kd","t":288,"v":0.85},{"s":"kd","t":296,"v":1.0},{"s":"kd","t":305,"v":1.15},{"s":"kd","t":313,"v":1.2},{"s":"kd","t":321,"v":1.22},{"s":"kd","t":329,"v":1.28},{"s":"kd","t":337,"v":1.35},{"s":"kd","t":345,"v":1.4},{"s":"kd","t":353,"v":1.45},{"s":"kd","t":361,"v":1.5},{"s":"kd","t":369,"v":1.55},{"s":"kd","t":377,"v":1.62},{"s":"kd","t":385,"v":1.68},{"s":"kd","t":393,"v":1.72},{"s":"kd","t":401,"v":1.78},{"s":"kd","t":409,"v":1.82},{"s":"kd","t":417,"v":1.86},{"s":"kd","t":425,"v":1.9},{"s":"kd","t":433,"v":1.88},{"s":"kd","t":441,"v":1.92},{"s":"kd","t":449,"v":1.98},{"s":"kd","t":457,"v":1.95},{"s":"kd","t":465,"v":1.9},{"s":"kd","t":473,"v":1.92},{"s":"kd","t":481,"v":1.95},{"s":"kd","t":489,"v":2.05},{"s":"kd","t":495,"v":2.1},{"s":"kd","t":500,"v":2.08},
{"s":"ks","t":509,"v":2.02,"lo":1.54,"hi":2.43},{"s":"kd","t":526,"v":2.04,"lo":1.58,"hi":2.5}
 ]
},
"concat": [
 {
  "width": 246, "height": 175, "data": {"name": "A"},
  "layer": [
   {"transform": [{"filter": "datum.lo == null && (datum.s == 'gs' || datum.s == 'ks')"}], "mark": {"type": "line", "strokeWidth": 2.6}, "encoding": {"x": {"field": "t", "type": "quantitative", "scale": {"domain": [-215, 684], "nice": false, "zero": false}, "axis": {"values": [-150, 0, 150, 300, 450], "title": "Time [ms]"}}, "y": {"field": "v", "type": "quantitative", "scale": {"domain": [-0.4, 4], "nice": false, "zero": false}, "axis": {"values": [0, 4], "title": "EMG response [a.u.]"}}, "color": {"field": "s", "type": "nominal", "scale": {"domain": ["gs", "gd", "ks", "kd"], "range": ["#8a8a8a", "#9a9a9a", "#000000", "#000000"]}, "legend": null}}},
   {"transform": [{"filter": "datum.lo == null && (datum.s == 'gd' || datum.s == 'kd')"}], "mark": {"type": "line", "strokeWidth": 2}, "encoding": {"x": {"field": "t", "type": "quantitative", "scale": {"domain": [-215, 684], "nice": false, "zero": false}}, "y": {"field": "v", "type": "quantitative", "scale": {"domain": [-0.4, 4], "nice": false, "zero": false}}, "color": {"field": "s", "type": "nominal", "scale": {"domain": ["gs", "gd", "ks", "kd"], "range": ["#8a8a8a", "#9a9a9a", "#000000", "#000000"]}, "legend": null}, "strokeDash": {"field": "s", "type": "nominal", "scale": {"domain": ["gs", "gd", "ks", "kd"], "range": [[1, 0], [2.5, 2], [1, 0], [3, 2]]}, "legend": null}}},
   {"transform": [{"filter": "datum.lo != null"}], "mark": {"type": "rule", "strokeWidth": 2}, "encoding": {"x": {"field": "t", "type": "quantitative", "scale": {"domain": [-215, 684], "nice": false, "zero": false}}, "y": {"field": "lo", "type": "quantitative", "scale": {"domain": [-0.4, 4], "nice": false, "zero": false}}, "y2": {"field": "hi"}, "color": {"field": "s", "type": "nominal", "scale": {"domain": ["gs", "gd", "ks", "kd"], "range": ["#8a8a8a", "#9a9a9a", "#000000", "#000000"]}, "legend": null}, "strokeDash": {"field": "s", "type": "nominal", "scale": {"domain": ["gs", "gd", "ks", "kd"], "range": [[1, 0], [2.5, 2], [1, 0], [3, 2]]}, "legend": null}}},
   {"transform": [{"filter": "datum.lo != null"}], "mark": {"type": "point", "filled": true, "size": 20, "opacity": 1}, "encoding": {"x": {"field": "t", "type": "quantitative", "scale": {"domain": [-215, 684], "nice": false, "zero": false}}, "y": {"field": "v", "type": "quantitative", "scale": {"domain": [-0.4, 4], "nice": false, "zero": false}}, "color": {"field": "s", "type": "nominal", "scale": {"domain": ["gs", "gd", "ks", "kd"], "range": ["#8a8a8a", "#9a9a9a", "#000000", "#000000"]}, "legend": null}}},
   {"data": {"values": [{"k": 1}]}, "mark": {"type": "rule", "color": "#333333", "strokeWidth": 3}, "encoding": {"x": {"datum": -150}, "x2": {"datum": 450}, "y": {"datum": -0.4}}},
   {"data": {"values": [{"k": 1}]}, "mark": {"type": "rule", "color": "#333333", "strokeWidth": 3}, "encoding": {"x": {"datum": -215}, "y": {"datum": 0}, "y2": {"datum": 4}}},
   {"data": {"name": "evA"}, "mark": {"type": "rule", "color": "#000000", "strokeWidth": 1, "strokeDash": [4, 2, 1, 2]}, "encoding": {"x": {"field": "ev", "type": "quantitative"}, "y": {"datum": -0.4}, "y2": {"datum": 4.05}}},
   {"data": {"name": "evA"}, "mark": {"type": "text", "angle": 270, "fontSize": 8.5, "baseline": "bottom", "align": "center", "color": "#222222"}, "encoding": {"x": {"field": "ev", "type": "quantitative"}, "y": {"datum": 2.1}, "text": {"field": "lab"}}},
   {"data": {"values": [{"k": 1}]}, "mark": {"type": "rule", "color": "#8a8a8a", "strokeWidth": 3.5}, "encoding": {"x": {"datum": 294}, "x2": {"datum": 349}, "y": {"datum": 3.97}}},
   {"data": {"values": [{"k": 1}]}, "mark": {"type": "rule", "color": "#000000", "strokeWidth": 3.5}, "encoding": {"x": {"datum": 294}, "x2": {"datum": 349}, "y": {"datum": 3.67}}},
   {"data": {"values": [{"k": 1}]}, "mark": {"type": "text", "text": "No obstacles", "fontSize": 9.5, "align": "left", "baseline": "middle", "color": "#333333"}, "encoding": {"x": {"datum": 352}, "y": {"datum": 3.97}}},
   {"data": {"values": [{"k": 1}]}, "mark": {"type": "text", "text": "Obstacles", "fontSize": 9.5, "align": "left", "baseline": "middle", "color": "#333333"}, "encoding": {"x": {"datum": 352}, "y": {"datum": 3.67}}},
   {"data": {"values": [{"k": 1}]}, "mark": {"type": "text", "text": "A", "fontSize": 23, "fontWeight": "bold", "align": "center", "baseline": "middle", "color": "#000000"}, "encoding": {"x": {"datum": -412}, "y": {"datum": 4.58}}},
   {"data": {"values": [{"k": 1}]}, "mark": {"type": "text", "text": "No change in obstacles", "fontSize": 17, "align": "center", "baseline": "middle", "color": "#000000"}, "encoding": {"x": {"datum": 147}, "y": {"datum": 5.35}}},
   {"data": {"values": [{"k": 1}]}, "mark": {"type": "text", "text": "Pectoralis major (PM)", "fontSize": 11.5, "fontWeight": "bold", "angle": 270, "align": "center", "baseline": "middle", "color": "#000000"}, "encoding": {"x": {"datum": -383}, "y": {"datum": 1.95}}}
  ]
 },
 {
  "width": 205, "height": 175, "data": {"name": "B"},
  "layer": [
   {"transform": [{"filter": "datum.lo == null && (datum.s == 'gs' || datum.s == 'ks')"}], "mark": {"type": "line", "strokeWidth": 2.6}, "encoding": {"x": {"field": "t", "type": "quantitative", "scale": {"domain": [-215, 534], "nice": false, "zero": false}, "axis": {"values": [-150, 0, 150, 300, 450], "title": "Time [ms]"}}, "y": {"field": "v", "type": "quantitative", "scale": {"domain": [-0.4, 4], "nice": false, "zero": false}, "axis": {"values": [0, 4], "title": "EMG response [a.u.]"}}, "color": {"field": "s", "type": "nominal", "scale": {"domain": ["gs", "gd", "ks", "kd"], "range": ["#8a8a8a", "#9a9a9a", "#000000", "#000000"]}, "legend": null}}},
   {"transform": [{"filter": "datum.lo == null && (datum.s == 'gd' || datum.s == 'kd')"}], "mark": {"type": "line", "strokeWidth": 2}, "encoding": {"x": {"field": "t", "type": "quantitative", "scale": {"domain": [-215, 534], "nice": false, "zero": false}}, "y": {"field": "v", "type": "quantitative", "scale": {"domain": [-0.4, 4], "nice": false, "zero": false}}, "color": {"field": "s", "type": "nominal", "scale": {"domain": ["gs", "gd", "ks", "kd"], "range": ["#8a8a8a", "#9a9a9a", "#000000", "#000000"]}, "legend": null}, "strokeDash": {"field": "s", "type": "nominal", "scale": {"domain": ["gs", "gd", "ks", "kd"], "range": [[1, 0], [2.5, 2], [1, 0], [3, 2]]}, "legend": null}}},
   {"transform": [{"filter": "datum.lo != null"}], "mark": {"type": "rule", "strokeWidth": 2}, "encoding": {"x": {"field": "t", "type": "quantitative", "scale": {"domain": [-215, 534], "nice": false, "zero": false}}, "y": {"field": "lo", "type": "quantitative", "scale": {"domain": [-0.4, 4], "nice": false, "zero": false}}, "y2": {"field": "hi"}, "color": {"field": "s", "type": "nominal", "scale": {"domain": ["gs", "gd", "ks", "kd"], "range": ["#8a8a8a", "#9a9a9a", "#000000", "#000000"]}, "legend": null}, "strokeDash": {"field": "s", "type": "nominal", "scale": {"domain": ["gs", "gd", "ks", "kd"], "range": [[1, 0], [2.5, 2], [1, 0], [3, 2]]}, "legend": null}}},
   {"transform": [{"filter": "datum.lo != null"}], "mark": {"type": "point", "filled": true, "size": 20, "opacity": 1}, "encoding": {"x": {"field": "t", "type": "quantitative", "scale": {"domain": [-215, 534], "nice": false, "zero": false}}, "y": {"field": "v", "type": "quantitative", "scale": {"domain": [-0.4, 4], "nice": false, "zero": false}}, "color": {"field": "s", "type": "nominal", "scale": {"domain": ["gs", "gd", "ks", "kd"], "range": ["#8a8a8a", "#9a9a9a", "#000000", "#000000"]}, "legend": null}}},
   {"data": {"values": [{"k": 1}]}, "mark": {"type": "rule", "color": "#333333", "strokeWidth": 3}, "encoding": {"x": {"datum": -150}, "x2": {"datum": 450}, "y": {"datum": -0.4}}},
   {"data": {"values": [{"k": 1}]}, "mark": {"type": "rule", "color": "#333333", "strokeWidth": 3}, "encoding": {"x": {"datum": -215}, "y": {"datum": 0}, "y2": {"datum": 4}}},
   {"data": {"name": "evB"}, "mark": {"type": "rule", "color": "#000000", "strokeWidth": 1, "strokeDash": [4, 2, 1, 2]}, "encoding": {"x": {"field": "ev", "type": "quantitative"}, "y": {"datum": -0.4}, "y2": {"datum": 4.05}}},
   {"data": {"name": "evB"}, "mark": {"type": "text", "angle": 270, "fontSize": 8.5, "baseline": "bottom", "align": "center", "color": "#222222"}, "encoding": {"x": {"field": "ev", "type": "quantitative"}, "y": {"datum": 2.1}, "text": {"field": "lab"}}},
   {"data": {"values": [{"k": 1}]}, "mark": {"type": "rule", "color": "#8a8a8a", "strokeWidth": 3.5}, "encoding": {"x": {"datum": 52}, "x2": {"datum": 103}, "y": {"datum": 3.97}}},
   {"data": {"values": [{"k": 1}]}, "mark": {"type": "rule", "color": "#9a9a9a", "strokeWidth": 3, "strokeDash": [3, 2]}, "encoding": {"x": {"datum": 52}, "x2": {"datum": 103}, "y": {"datum": 3.67}}},
   {"data": {"values": [{"k": 1}]}, "mark": {"type": "text", "text": "No obstacles", "fontSize": 8.5, "align": "left", "baseline": "middle", "color": "#333333"}, "encoding": {"x": {"datum": 106}, "y": {"datum": 3.97}}},
   {"data": {"values": [{"k": 1}]}, "mark": {"type": "text", "text": "Appearing obstacles", "fontSize": 8.5, "align": "left", "baseline": "middle", "color": "#333333"}, "encoding": {"x": {"datum": 106}, "y": {"datum": 3.67}}},
   {"data": {"values": [{"k": 1}]}, "mark": {"type": "text", "text": "B", "fontSize": 23, "fontWeight": "bold", "align": "center", "baseline": "middle", "color": "#000000"}, "encoding": {"x": {"datum": -487}, "y": {"datum": 4.6}}},
   {"data": {"values": [{"k": 1}]}, "mark": {"type": "text", "text": "Appearance/disappearance of obstacles", "fontSize": 17, "align": "center", "baseline": "middle", "color": "#000000"}, "encoding": {"x": {"datum": 547}, "y": {"datum": 5.35}}}
  ]
 },
 {
  "width": 205, "height": 175, "data": {"name": "C"},
  "layer": [
   {"transform": [{"filter": "datum.lo == null && (datum.s == 'gs' || datum.s == 'ks')"}], "mark": {"type": "line", "strokeWidth": 2.6}, "encoding": {"x": {"field": "t", "type": "quantitative", "scale": {"domain": [-215, 534], "nice": false, "zero": false}, "axis": {"values": [-150, 0, 150, 300, 450], "title": "Time [ms]"}}, "y": {"field": "v", "type": "quantitative", "scale": {"domain": [-0.4, 4], "nice": false, "zero": false}, "axis": {"values": [0, 4], "title": "EMG response [a.u.]"}}, "color": {"field": "s", "type": "nominal", "scale": {"domain": ["gs", "gd", "ks", "kd"], "range": ["#8a8a8a", "#9a9a9a", "#000000", "#000000"]}, "legend": null}}},
   {"transform": [{"filter": "datum.lo == null && (datum.s == 'gd' || datum.s == 'kd')"}], "mark": {"type": "line", "strokeWidth": 2}, "encoding": {"x": {"field": "t", "type": "quantitative", "scale": {"domain": [-215, 534], "nice": false, "zero": false}}, "y": {"field": "v", "type": "quantitative", "scale": {"domain": [-0.4, 4], "nice": false, "zero": false}}, "color": {"field": "s", "type": "nominal", "scale": {"domain": ["gs", "gd", "ks", "kd"], "range": ["#8a8a8a", "#9a9a9a", "#000000", "#000000"]}, "legend": null}, "strokeDash": {"field": "s", "type": "nominal", "scale": {"domain": ["gs", "gd", "ks", "kd"], "range": [[1, 0], [2.5, 2], [1, 0], [2.5, 2]]}, "legend": null}}},
   {"transform": [{"filter": "datum.lo != null"}], "mark": {"type": "rule", "strokeWidth": 2}, "encoding": {"x": {"field": "t", "type": "quantitative", "scale": {"domain": [-215, 534], "nice": false, "zero": false}}, "y": {"field": "lo", "type": "quantitative", "scale": {"domain": [-0.4, 4], "nice": false, "zero": false}}, "y2": {"field": "hi"}, "color": {"field": "s", "type": "nominal", "scale": {"domain": ["gs", "gd", "ks", "kd"], "range": ["#8a8a8a", "#9a9a9a", "#000000", "#000000"]}, "legend": null}, "strokeDash": {"field": "s", "type": "nominal", "scale": {"domain": ["gs", "gd", "ks", "kd"], "range": [[1, 0], [2.5, 2], [1, 0], [2.5, 2]]}, "legend": null}}},
   {"transform": [{"filter": "datum.lo != null"}], "mark": {"type": "point", "filled": true, "size": 20, "opacity": 1}, "encoding": {"x": {"field": "t", "type": "quantitative", "scale": {"domain": [-215, 534], "nice": false, "zero": false}}, "y": {"field": "v", "type": "quantitative", "scale": {"domain": [-0.4, 4], "nice": false, "zero": false}}, "color": {"field": "s", "type": "nominal", "scale": {"domain": ["gs", "gd", "ks", "kd"], "range": ["#8a8a8a", "#9a9a9a", "#000000", "#000000"]}, "legend": null}}},
   {"data": {"values": [{"k": 1}]}, "mark": {"type": "rule", "color": "#333333", "strokeWidth": 3}, "encoding": {"x": {"datum": -150}, "x2": {"datum": 450}, "y": {"datum": -0.4}}},
   {"data": {"values": [{"k": 1}]}, "mark": {"type": "rule", "color": "#333333", "strokeWidth": 3}, "encoding": {"x": {"datum": -215}, "y": {"datum": 0}, "y2": {"datum": 4}}},
   {"data": {"name": "evC"}, "mark": {"type": "rule", "color": "#000000", "strokeWidth": 1, "strokeDash": [4, 2, 1, 2]}, "encoding": {"x": {"field": "ev", "type": "quantitative"}, "y": {"datum": -0.4}, "y2": {"datum": 4.05}}},
   {"data": {"name": "evC"}, "mark": {"type": "text", "angle": 270, "fontSize": 8.5, "baseline": "bottom", "align": "center", "color": "#222222"}, "encoding": {"x": {"field": "ev", "type": "quantitative"}, "y": {"datum": 2.1}, "text": {"field": "lab"}}},
   {"data": {"values": [{"k": 1}]}, "mark": {"type": "rule", "color": "#000000", "strokeWidth": 3.5}, "encoding": {"x": {"datum": 166}, "x2": {"datum": 221}, "y": {"datum": 3.97}}},
   {"data": {"values": [{"k": 1}]}, "mark": {"type": "rule", "color": "#000000", "strokeWidth": 3, "strokeDash": [3, 2]}, "encoding": {"x": {"datum": 166}, "x2": {"datum": 221}, "y": {"datum": 3.67}}},
   {"data": {"values": [{"k": 1}]}, "mark": {"type": "text", "text": "Obstacles", "fontSize": 8.5, "align": "left", "baseline": "middle", "color": "#333333"}, "encoding": {"x": {"datum": 224}, "y": {"datum": 3.97}}},
   {"data": {"values": [{"k": 1}]}, "mark": {"type": "text", "text": "Disappearing obstacles", "fontSize": 8.5, "align": "left", "baseline": "middle", "color": "#333333"}, "encoding": {"x": {"datum": 224}, "y": {"datum": 3.67}}},
   {"data": {"values": [{"k": 1}]}, "mark": {"type": "text", "text": "C", "fontSize": 23, "fontWeight": "bold", "align": "center", "baseline": "middle", "color": "#000000"}, "encoding": {"x": {"datum": -273}, "y": {"datum": 4.63}}}
  ]
 },
 {
  "width": 246, "height": 175, "data": {"name": "D"},
  "layer": [
   {"transform": [{"filter": "datum.lo == null && (datum.s == 'gs' || datum.s == 'ks')"}], "mark": {"type": "line", "strokeWidth": 2.6}, "encoding": {"x": {"field": "t", "type": "quantitative", "scale": {"domain": [-215, 684], "nice": false, "zero": false}, "axis": {"values": [-150, 0, 150, 300, 450], "title": "Time [ms]"}}, "y": {"field": "v", "type": "quantitative", "scale": {"domain": [-0.4, 4], "nice": false, "zero": false}, "axis": {"values": [0, 4], "title": "EMG response [a.u.]"}}, "color": {"field": "s", "type": "nominal", "scale": {"domain": ["gs", "gd", "ks", "kd"], "range": ["#8a8a8a", "#9a9a9a", "#000000", "#000000"]}, "legend": null}}},
   {"transform": [{"filter": "datum.lo == null && (datum.s == 'gd' || datum.s == 'kd')"}], "mark": {"type": "line", "strokeWidth": 2}, "encoding": {"x": {"field": "t", "type": "quantitative", "scale": {"domain": [-215, 684], "nice": false, "zero": false}}, "y": {"field": "v", "type": "quantitative", "scale": {"domain": [-0.4, 4], "nice": false, "zero": false}}, "color": {"field": "s", "type": "nominal", "scale": {"domain": ["gs", "gd", "ks", "kd"], "range": ["#8a8a8a", "#9a9a9a", "#000000", "#000000"]}, "legend": null}, "strokeDash": {"field": "s", "type": "nominal", "scale": {"domain": ["gs", "gd", "ks", "kd"], "range": [[1, 0], [2.5, 2], [1, 0], [3, 2]]}, "legend": null}}},
   {"transform": [{"filter": "datum.lo != null"}], "mark": {"type": "rule", "strokeWidth": 2}, "encoding": {"x": {"field": "t", "type": "quantitative", "scale": {"domain": [-215, 684], "nice": false, "zero": false}}, "y": {"field": "lo", "type": "quantitative", "scale": {"domain": [-0.4, 4], "nice": false, "zero": false}}, "y2": {"field": "hi"}, "color": {"field": "s", "type": "nominal", "scale": {"domain": ["gs", "gd", "ks", "kd"], "range": ["#8a8a8a", "#9a9a9a", "#000000", "#000000"]}, "legend": null}, "strokeDash": {"field": "s", "type": "nominal", "scale": {"domain": ["gs", "gd", "ks", "kd"], "range": [[1, 0], [2.5, 2], [1, 0], [3, 2]]}, "legend": null}}},
   {"transform": [{"filter": "datum.lo != null"}], "mark": {"type": "point", "filled": true, "size": 20, "opacity": 1}, "encoding": {"x": {"field": "t", "type": "quantitative", "scale": {"domain": [-215, 684], "nice": false, "zero": false}}, "y": {"field": "v", "type": "quantitative", "scale": {"domain": [-0.4, 4], "nice": false, "zero": false}}, "color": {"field": "s", "type": "nominal", "scale": {"domain": ["gs", "gd", "ks", "kd"], "range": ["#8a8a8a", "#9a9a9a", "#000000", "#000000"]}, "legend": null}}},
   {"data": {"values": [{"k": 1}]}, "mark": {"type": "rule", "color": "#333333", "strokeWidth": 3}, "encoding": {"x": {"datum": -150}, "x2": {"datum": 450}, "y": {"datum": -0.4}}},
   {"data": {"values": [{"k": 1}]}, "mark": {"type": "rule", "color": "#333333", "strokeWidth": 3}, "encoding": {"x": {"datum": -215}, "y": {"datum": 0}, "y2": {"datum": 4}}},
   {"data": {"name": "evA"}, "mark": {"type": "rule", "color": "#000000", "strokeWidth": 1, "strokeDash": [4, 2, 1, 2]}, "encoding": {"x": {"field": "ev", "type": "quantitative"}, "y": {"datum": -0.4}, "y2": {"datum": 4.05}}},
   {"data": {"name": "evA"}, "mark": {"type": "text", "angle": 270, "fontSize": 8.5, "baseline": "bottom", "align": "center", "color": "#222222"}, "encoding": {"x": {"field": "ev", "type": "quantitative"}, "y": {"datum": 2.05}, "text": {"field": "lab"}}},
   {"data": {"values": [{"k": 1}]}, "mark": {"type": "rule", "color": "#8a8a8a", "strokeWidth": 3.5}, "encoding": {"x": {"datum": 294}, "x2": {"datum": 349}, "y": {"datum": 4.13}}},
   {"data": {"values": [{"k": 1}]}, "mark": {"type": "rule", "color": "#000000", "strokeWidth": 3.5}, "encoding": {"x": {"datum": 294}, "x2": {"datum": 349}, "y": {"datum": 3.79}}},
   {"data": {"values": [{"k": 1}]}, "mark": {"type": "text", "text": "No obstacles", "fontSize": 9.5, "align": "left", "baseline": "middle", "color": "#333333"}, "encoding": {"x": {"datum": 352}, "y": {"datum": 4.13}}},
   {"data": {"values": [{"k": 1}]}, "mark": {"type": "text", "text": "Obstacles", "fontSize": 9.5, "align": "left", "baseline": "middle", "color": "#333333"}, "encoding": {"x": {"datum": 352}, "y": {"datum": 3.79}}},
   {"data": {"values": [{"k": 1}]}, "mark": {"type": "text", "text": "D", "fontSize": 23, "fontWeight": "bold", "align": "center", "baseline": "middle", "color": "#000000"}, "encoding": {"x": {"datum": -407}, "y": {"datum": 4.45}}},
   {"data": {"values": [{"k": 1}]}, "mark": {"type": "text", "text": "Posterior deltoid (PD)", "fontSize": 11.5, "fontWeight": "bold", "angle": 270, "align": "center", "baseline": "middle", "color": "#000000"}, "encoding": {"x": {"datum": -383}, "y": {"datum": 1.85}}}
  ]
 },
 {
  "width": 205, "height": 175, "data": {"name": "E"},
  "layer": [
   {"transform": [{"filter": "datum.lo == null && (datum.s == 'gs' || datum.s == 'ks')"}], "mark": {"type": "line", "strokeWidth": 2.6}, "encoding": {"x": {"field": "t", "type": "quantitative", "scale": {"domain": [-215, 534], "nice": false, "zero": false}, "axis": {"values": [-150, 0, 150, 300, 450], "title": "Time [ms]"}}, "y": {"field": "v", "type": "quantitative", "scale": {"domain": [-0.4, 4], "nice": false, "zero": false}, "axis": {"values": [0, 4], "title": "EMG response [a.u.]"}}, "color": {"field": "s", "type": "nominal", "scale": {"domain": ["gs", "gd", "ks", "kd"], "range": ["#8a8a8a", "#9a9a9a", "#000000", "#000000"]}, "legend": null}}},
   {"transform": [{"filter": "datum.lo == null && (datum.s == 'gd' || datum.s == 'kd')"}], "mark": {"type": "line", "strokeWidth": 2}, "encoding": {"x": {"field": "t", "type": "quantitative", "scale": {"domain": [-215, 534], "nice": false, "zero": false}}, "y": {"field": "v", "type": "quantitative", "scale": {"domain": [-0.4, 4], "nice": false, "zero": false}}, "color": {"field": "s", "type": "nominal", "scale": {"domain": ["gs", "gd", "ks", "kd"], "range": ["#8a8a8a", "#9a9a9a", "#000000", "#000000"]}, "legend": null}, "strokeDash": {"field": "s", "type": "nominal", "scale": {"domain": ["gs", "gd", "ks", "kd"], "range": [[1, 0], [2.5, 2], [1, 0], [3, 2]]}, "legend": null}}},
   {"transform": [{"filter": "datum.lo != null"}], "mark": {"type": "rule", "strokeWidth": 2}, "encoding": {"x": {"field": "t", "type": "quantitative", "scale": {"domain": [-215, 534], "nice": false, "zero": false}}, "y": {"field": "lo", "type": "quantitative", "scale": {"domain": [-0.4, 4], "nice": false, "zero": false}}, "y2": {"field": "hi"}, "color": {"field": "s", "type": "nominal", "scale": {"domain": ["gs", "gd", "ks", "kd"], "range": ["#8a8a8a", "#9a9a9a", "#000000", "#000000"]}, "legend": null}, "strokeDash": {"field": "s", "type": "nominal", "scale": {"domain": ["gs", "gd", "ks", "kd"], "range": [[1, 0], [2.5, 2], [1, 0], [3, 2]]}, "legend": null}}},
   {"transform": [{"filter": "datum.lo != null"}], "mark": {"type": "point", "filled": true, "size": 20, "opacity": 1}, "encoding": {"x": {"field": "t", "type": "quantitative", "scale": {"domain": [-215, 534], "nice": false, "zero": false}}, "y": {"field": "v", "type": "quantitative", "scale": {"domain": [-0.4, 4], "nice": false, "zero": false}}, "color": {"field": "s", "type": "nominal", "scale": {"domain": ["gs", "gd", "ks", "kd"], "range": ["#8a8a8a", "#9a9a9a", "#000000", "#000000"]}, "legend": null}}},
   {"data": {"values": [{"k": 1}]}, "mark": {"type": "rule", "color": "#333333", "strokeWidth": 3}, "encoding": {"x": {"datum": -150}, "x2": {"datum": 450}, "y": {"datum": -0.4}}},
   {"data": {"values": [{"k": 1}]}, "mark": {"type": "rule", "color": "#333333", "strokeWidth": 3}, "encoding": {"x": {"datum": -215}, "y": {"datum": 0}, "y2": {"datum": 4}}},
   {"data": {"name": "evB"}, "mark": {"type": "rule", "color": "#000000", "strokeWidth": 1, "strokeDash": [4, 2, 1, 2]}, "encoding": {"x": {"field": "ev", "type": "quantitative"}, "y": {"datum": -0.4}, "y2": {"datum": 4.05}}},
   {"data": {"name": "evB"}, "mark": {"type": "text", "angle": 270, "fontSize": 8.5, "baseline": "bottom", "align": "center", "color": "#222222"}, "encoding": {"x": {"field": "ev", "type": "quantitative"}, "y": {"datum": 2.15}, "text": {"field": "lab"}}},
   {"data": {"values": [{"k": 1}]}, "mark": {"type": "rule", "color": "#8a8a8a", "strokeWidth": 3.5}, "encoding": {"x": {"datum": 52}, "x2": {"datum": 103}, "y": {"datum": 4.13}}},
   {"data": {"values": [{"k": 1}]}, "mark": {"type": "rule", "color": "#9a9a9a", "strokeWidth": 3, "strokeDash": [3, 2]}, "encoding": {"x": {"datum": 52}, "x2": {"datum": 103}, "y": {"datum": 3.79}}},
   {"data": {"values": [{"k": 1}]}, "mark": {"type": "text", "text": "No obstacles", "fontSize": 8.5, "align": "left", "baseline": "middle", "color": "#333333"}, "encoding": {"x": {"datum": 106}, "y": {"datum": 4.13}}},
   {"data": {"values": [{"k": 1}]}, "mark": {"type": "text", "text": "Appearing obstacles", "fontSize": 8.5, "align": "left", "baseline": "middle", "color": "#333333"}, "encoding": {"x": {"datum": 106}, "y": {"datum": 3.79}}},
   {"data": {"values": [{"k": 1}]}, "mark": {"type": "text", "text": "E", "fontSize": 23, "fontWeight": "bold", "align": "center", "baseline": "middle", "color": "#000000"}, "encoding": {"x": {"datum": -494}, "y": {"datum": 4.45}}}
  ]
 },
 {
  "width": 205, "height": 175, "data": {"name": "F"},
  "layer": [
   {"transform": [{"filter": "datum.lo == null && (datum.s == 'gs' || datum.s == 'ks')"}], "mark": {"type": "line", "strokeWidth": 2.6}, "encoding": {"x": {"field": "t", "type": "quantitative", "scale": {"domain": [-215, 534], "nice": false, "zero": false}, "axis": {"values": [-150, 0, 150, 300, 450], "title": "Time [ms]"}}, "y": {"field": "v", "type": "quantitative", "scale": {"domain": [-0.4, 4], "nice": false, "zero": false}, "axis": {"values": [0, 4], "title": "EMG response [a.u.]"}}, "color": {"field": "s", "type": "nominal", "scale": {"domain": ["gs", "gd", "ks", "kd"], "range": ["#8a8a8a", "#9a9a9a", "#000000", "#000000"]}, "legend": null}}},
   {"transform": [{"filter": "datum.lo == null && (datum.s == 'gd' || datum.s == 'kd')"}], "mark": {"type": "line", "strokeWidth": 2}, "encoding": {"x": {"field": "t", "type": "quantitative", "scale": {"domain": [-215, 534], "nice": false, "zero": false}}, "y": {"field": "v", "type": "quantitative", "scale": {"domain": [-0.4, 4], "nice": false, "zero": false}}, "color": {"field": "s", "type": "nominal", "scale": {"domain": ["gs", "gd", "ks", "kd"], "range": ["#8a8a8a", "#9a9a9a", "#000000", "#000000"]}, "legend": null}, "strokeDash": {"field": "s", "type": "nominal", "scale": {"domain": ["gs", "gd", "ks", "kd"], "range": [[1, 0], [2.5, 2], [1, 0], [2.5, 2]]}, "legend": null}}},
   {"transform": [{"filter": "datum.lo != null"}], "mark": {"type": "rule", "strokeWidth": 2}, "encoding": {"x": {"field": "t", "type": "quantitative", "scale": {"domain": [-215, 534], "nice": false, "zero": false}}, "y": {"field": "lo", "type": "quantitative", "scale": {"domain": [-0.4, 4], "nice": false, "zero": false}}, "y2": {"field": "hi"}, "color": {"field": "s", "type": "nominal", "scale": {"domain": ["gs", "gd", "ks", "kd"], "range": ["#8a8a8a", "#9a9a9a", "#000000", "#000000"]}, "legend": null}, "strokeDash": {"field": "s", "type": "nominal", "scale": {"domain": ["gs", "gd", "ks", "kd"], "range": [[1, 0], [2.5, 2], [1, 0], [2.5, 2]]}, "legend": null}}},
   {"transform": [{"filter": "datum.lo != null"}], "mark": {"type": "point", "filled": true, "size": 20, "opacity": 1}, "encoding": {"x": {"field": "t", "type": "quantitative", "scale": {"domain": [-215, 534], "nice": false, "zero": false}}, "y": {"field": "v", "type": "quantitative", "scale": {"domain": [-0.4, 4], "nice": false, "zero": false}}, "color": {"field": "s", "type": "nominal", "scale": {"domain": ["gs", "gd", "ks", "kd"], "range": ["#8a8a8a", "#9a9a9a", "#000000", "#000000"]}, "legend": null}}},
   {"data": {"values": [{"k": 1}]}, "mark": {"type": "rule", "color": "#333333", "strokeWidth": 3}, "encoding": {"x": {"datum": -150}, "x2": {"datum": 450}, "y": {"datum": -0.4}}},
   {"data": {"values": [{"k": 1}]}, "mark": {"type": "rule", "color": "#333333", "strokeWidth": 3}, "encoding": {"x": {"datum": -215}, "y": {"datum": 0}, "y2": {"datum": 4}}},
   {"data": {"name": "evC"}, "mark": {"type": "rule", "color": "#000000", "strokeWidth": 1, "strokeDash": [4, 2, 1, 2]}, "encoding": {"x": {"field": "ev", "type": "quantitative"}, "y": {"datum": -0.4}, "y2": {"datum": 4.05}}},
   {"data": {"name": "evC"}, "mark": {"type": "text", "angle": 270, "fontSize": 8.5, "baseline": "bottom", "align": "center", "color": "#222222"}, "encoding": {"x": {"field": "ev", "type": "quantitative"}, "y": {"datum": 2.05}, "text": {"field": "lab"}}},
   {"data": {"values": [{"k": 1}]}, "mark": {"type": "rule", "color": "#000000", "strokeWidth": 3.5}, "encoding": {"x": {"datum": 166}, "x2": {"datum": 221}, "y": {"datum": 4.13}}},
   {"data": {"values": [{"k": 1}]}, "mark": {"type": "rule", "color": "#000000", "strokeWidth": 3, "strokeDash": [3, 2]}, "encoding": {"x": {"datum": 166}, "x2": {"datum": 221}, "y": {"datum": 3.79}}},
   {"data": {"values": [{"k": 1}]}, "mark": {"type": "text", "text": "Obstacles", "fontSize": 8.5, "align": "left", "baseline": "middle", "color": "#333333"}, "encoding": {"x": {"datum": 224}, "y": {"datum": 4.13}}},
   {"data": {"values": [{"k": 1}]}, "mark": {"type": "text", "text": "Disappearing obstacles", "fontSize": 8.5, "align": "left", "baseline": "middle", "color": "#333333"}, "encoding": {"x": {"datum": 224}, "y": {"datum": 3.79}}},
   {"data": {"values": [{"k": 1}]}, "mark": {"type": "text", "text": "F", "fontSize": 23, "fontWeight": "bold", "align": "center", "baseline": "middle", "color": "#000000"}, "encoding": {"x": {"datum": -418}, "y": {"datum": 4.47}}}
  ]
 }
]
}
